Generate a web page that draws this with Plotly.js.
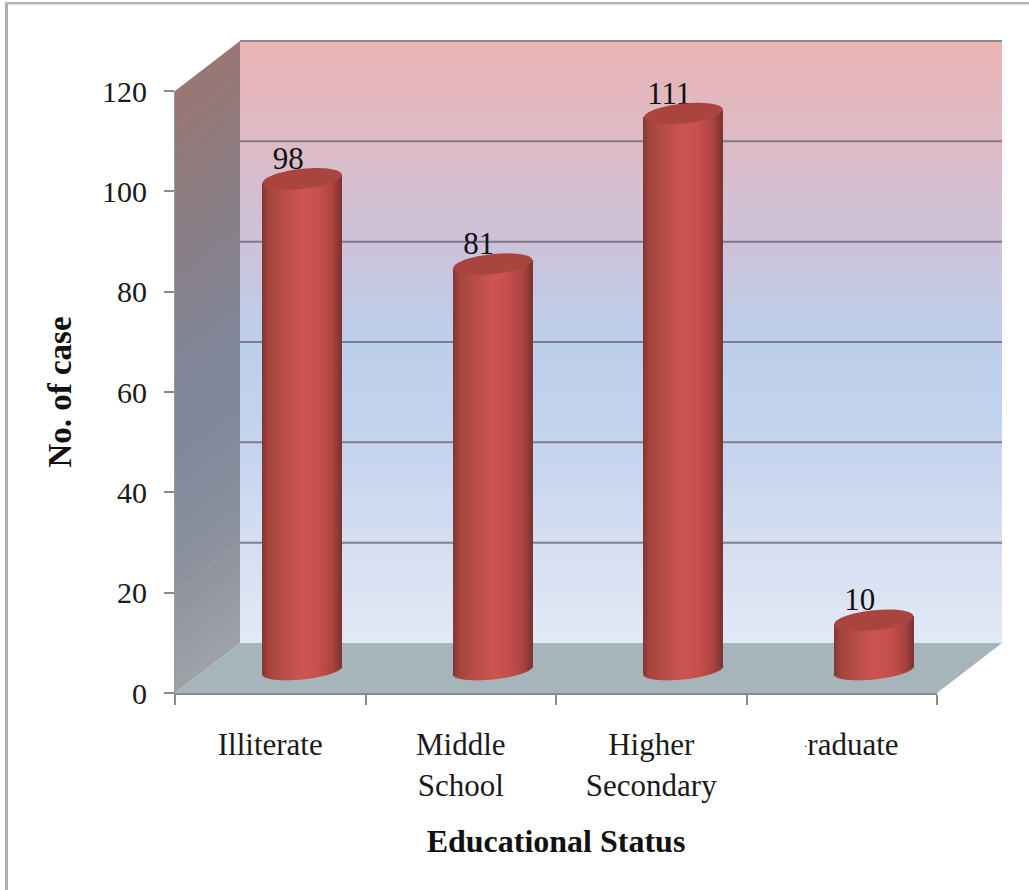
<!DOCTYPE html>
<html>
<head>
<meta charset="utf-8">
<script src="https://cdn.plot.ly/plotly-3.0.1.min.js"></script>
<style>html,body{margin:0;padding:0;background:#fff}#chart{width:1029px;height:890px}</style>
</head>
<body>
<div id="chart"></div>
<script>
// Educational status of cases
const categories = ['Illiterate', 'Middle<br>School', 'Higher<br>Secondary', 'Graduate'];
const caseCounts = [98, 81, 111, 10];
const yTicks = [0, 20, 40, 60, 80, 100, 120];

// Page geometry of the front plane of the chart box
const W = 1029, H = 890;
const left = 175, right = 937, top_ = 91, bottom = 693;
const xPaper = px => (px - left) / (right - left);
const yPaper = py => (bottom - py) / (bottom - top_);

// Depth of the box (pixels)
const depthX = 65, depthY = 50;
const unitY = (bottom - top_) / 120;            // pixels per case
const unitX = (right - left) / categories.length; // pixels per category

function hex(c) { return [1, 3, 5].map(i => parseInt(c.slice(i, i + 2), 16)); }
function ramp(stops, u) {
  for (let i = 1; i < stops.length; i++) {
    if (u <= stops[i][0]) {
      const a = stops[i - 1], b = stops[i];
      const f = (u - a[0]) / (b[0] - a[0] || 1);
      const ca = hex(a[1]), cb = hex(b[1]);
      return 'rgb(' + ca.map((v, k) => Math.round(v + (cb[k] - v) * f)).join(',') + ')';
    }
  }
  return stops[stops.length - 1][1];
}

const backStops = [[0, '#ebb6b3'], [0.05, '#e6b6ba'], [0.17, '#dcbbc6'], [0.33, '#cdc2da'],
                   [0.5, '#bccfeb'], [0.67, '#c4d4ed'], [0.84, '#d5dff1'], [1, '#e3e9f6']];
const sideStops = [[0, '#9a7774'], [0.2, '#8c7d82'], [0.45, '#818596'], [0.6, '#81889b'],
                   [0.8, '#8c919d'], [1, '#a0a2a8']];
const barStops = [[0, '#7f3633'], [0.08, '#a3443c'], [0.25, '#b54d45'], [0.5, '#cd5451'],
                  [0.7, '#c6504d'], [0.9, '#a8423f'], [1, '#7c3331']];

const shapes = [];
const paperRect = (x0, y0, x1, y1, color, layer) => shapes.push({
  type: 'rect', xref: 'paper', yref: 'paper', layer: layer || 'below',
  x0: xPaper(x0), x1: xPaper(x1), y0: yPaper(y0), y1: yPaper(y1),
  fillcolor: color, line: {width: 0}
});
const paperPoly = (pts, color, layer) => shapes.push({
  type: 'path', xref: 'paper', yref: 'paper', layer: layer || 'below',
  path: 'M' + pts.map(p => xPaper(p[0]) + ',' + yPaper(p[1])).join('L') + 'Z',
  fillcolor: color, line: {width: 0}
});

// Back wall with its vertical colour wash
const backTop = top_ - depthY + 1, backBottom = bottom - depthY;
const stepBack = 3;
for (let y = backTop; y < backBottom; y += stepBack) {
  paperRect(left + depthX, y, right + depthX, Math.min(y + stepBack + 1, backBottom),
            ramp(backStops, (y - backTop) / (backBottom - backTop)));
}

// Side wall, same wash in its own colours
const sideStep = 4;
for (let y = top_; y < bottom; y += sideStep) {
  const h = Math.min(sideStep + 1, bottom - y);
  paperPoly([[left, y], [left + depthX, y - depthY], [left + depthX, y - depthY + h], [left, y + h]],
            ramp(sideStops, (y - top_) / (bottom - top_)));
}

// Floor
paperPoly([[left, bottom], [right, bottom], [right + depthX, bottom - depthY], [left + depthX, bottom - depthY]], '#a5b5b9');

// Gridlines on the back wall
yTicks.forEach(v => {
  if (v === 0) return;
  const y = bottom - depthY - v * unitY;
  shapes.push({type: 'line', xref: 'paper', yref: 'paper', layer: 'below',
    x0: xPaper(left + depthX), x1: xPaper(right + depthX), y0: yPaper(y), y1: yPaper(y),
    line: {color: 'rgba(105,95,110,0.75)', width: 2}});
});

// Faint fold of the lowest gridline across the side wall
shapes.push({type: 'line', xref: 'paper', yref: 'paper', layer: 'below',
  x0: xPaper(left), x1: xPaper(left + depthX), y0: yPaper(bottom - 20 * unitY), y1: yPaper(bottom - 20 * unitY - depthY),
  line: {color: 'rgba(165,170,175,0.45)', width: 1}});

// Page frame
paperRect(5, 2, 8, H, '#b0b0b0', 'above');
paperRect(5, 2, W, 4.5, '#b4b4b4', 'above');

// Cylinders: vertical strips give the rounded shading, caps close each end
const strips = 40;
const shiftX = 32 / unitX;
const halfW = 39.5 / unitX;
const lift = 4.5;                // the cylinders stand mid-way into the box
const radiusY = 10 / unitY;
const tilt = 4 / unitY;
const stripW = 2 * halfW / strips * 1.35;

const traces = [];
for (let i = 0; i < strips; i++) {
  const t = (i + 0.5) / strips * 2 - 1;
  const color = ramp(barStops, (t + 1) / 2);
  const base = lift + tilt * t;
  const offset = shiftX + t * halfW - stripW / 2;
  traces.push({
    type: 'bar', x: categories, y: caseCounts, base: base, width: stripW, offset: offset,
    marker: {color: color, line: {width: 0}}, hoverinfo: 'skip', showlegend: false, cliponaxis: false
  });
  // Rounded underside of the strip
  const sag = radiusY * 0.9 * Math.sqrt(1 - t * t);
  caseCounts.forEach((v, k) => shapes.push({
    type: 'rect', xref: 'x', yref: 'y', layer: 'between',
    x0: k + offset, x1: k + offset + stripW, y0: base - sag, y1: base + 0.3,
    fillcolor: color, line: {width: 0}
  }));
}

// Top faces
caseCounts.forEach((v, k) => {
  const cx = k + shiftX, cy = v + lift;
  const pts = [];
  for (let a = 0; a < 60; a++) {
    const ang = a / 60 * 2 * Math.PI;
    pts.push((cx + halfW * Math.cos(ang)) + ',' + (cy + radiusY * Math.sin(ang) + tilt * Math.cos(ang)));
  }
  shapes.push({type: 'path', xref: 'x', yref: 'y', layer: 'above',
    path: 'M' + pts.join('L') + 'Z', fillcolor: '#aa443e', line: {width: 0}});
});

// Value labels: an unpainted bar carries each number just above its cylinder
const labelWidth = 0.3;
traces.push({
  type: 'bar', x: categories, y: caseCounts, base: 4.5, width: labelWidth,
  offset: 18 / unitX - labelWidth / 2,
  marker: {color: 'rgba(0,0,0,0)', line: {width: 0}},
  text: caseCounts.map(String), textposition: 'outside', constraintext: 'none',
  textfont: {family: 'Liberation Serif', size: 31, color: '#111'},
  hoverinfo: 'skip', showlegend: false, cliponaxis: false
});

// Partly masks the last category label, as on the printed figure
paperRect(770, 728, 805, 765, '#ffffff', 'above');

const layout = {
  width: W, height: H,
  margin: {l: left, r: W - right, t: top_, b: H - bottom, pad: 0},
  paper_bgcolor: '#ffffff', plot_bgcolor: 'rgba(0,0,0,0)',
  barmode: 'overlay', bargap: 0, showlegend: false,
  font: {family: 'Liberation Serif', size: 30, color: '#1a1a1a'},
  xaxis: {
    type: 'category', categoryorder: 'array', categoryarray: categories,
    range: [-0.5, 3.5], tickson: 'boundaries', ticks: 'outside', ticklen: 10, tickwidth: 2,
    tickcolor: '#8a8a8a', showline: true, linecolor: '#8a8a8a', linewidth: 2, showgrid: false,
    zeroline: false, ticklabelstandoff: 23,
    tickfont: {family: 'Liberation Serif', size: 31, color: '#1a1a1a'},
    title: {text: '<b>Educational Status</b>', standoff: 28,
            font: {family: 'Liberation Serif', size: 32, color: '#111'}}
  },
  yaxis: {
    range: [0, 120], tickvals: yTicks, ticktext: yTicks.map(String), ticks: 'outside', ticklen: 10,
    tickwidth: 2, tickcolor: '#8a8a8a', showline: true, linecolor: '#9a9a9a', linewidth: 1,
    showgrid: false, zeroline: false, ticklabelstandoff: 11,
    tickfont: {family: 'Liberation Serif', size: 30, color: '#1a1a1a'},
    title: {text: '<b>No. of case</b>', standoff: 20,
            font: {family: 'Liberation Serif', size: 33, color: '#111'}}
  },
  shapes: shapes
};

Plotly.newPlot('chart', traces, layout, {displayModeBar: false, staticPlot: true});
</script>
</body>
</html>
